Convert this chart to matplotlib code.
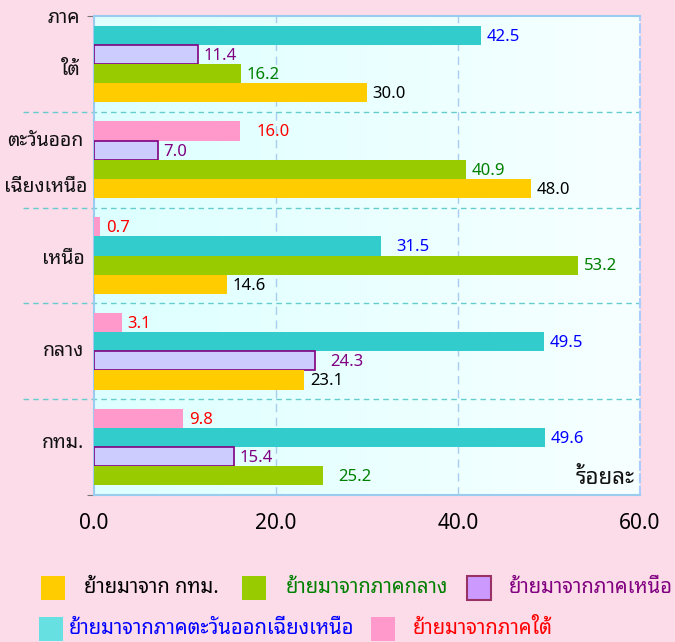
import numpy as np
import matplotlib
matplotlib.use("Agg")
import matplotlib.pyplot as plt
import matplotlib.transforms as mtrans
from matplotlib.patches import Rectangle

plt.rcParams["font.family"] = ["Noto Sans Thai Looped", "DejaVu Sans"]

# regions from top to bottom
regions = ["south", "ne", "north", "central", "bkk"]

# percent of migrants by origin (None = own region)
series = [
    # key, origin, bar colour, label colour
    ("south", [None, 16.0, 0.7, 3.1, 9.8], "#FF99CC", "#FF0000"),
    ("ne", [42.5, None, 31.5, 49.5, 49.6], "#33CCCC", "#0000FF"),
    ("north", [11.4, 7.0, None, 24.3, 15.4], "#CCCCFF", "#800080"),
    ("central", [16.2, 40.9, 53.2, None, 25.2], "#99CC00", "#008000"),
    ("bkk", [30.0, 48.0, 14.6, 23.1, None], "#FFCC00", "#000000"),
]

# a few labels sit a bit further from the bar end
extra_pad = {(1, "south"): 8, (2, "ne"): 7, (3, "north"): 7, (4, "central"): 7}

fig = plt.figure(figsize=(6.75, 6.42), dpi=100, facecolor="#FDDCEA")
ax = fig.add_axes([94 / 675, 1 - 495 / 642, 546 / 675, 479 / 642])

# plot area background gradient
grad = np.linspace(0, 1, 256).reshape(1, -1)
cmap = matplotlib.colors.LinearSegmentedColormap.from_list("bg", ["#DDFFFF", "#F7FFFF"])
ax.imshow(grad, extent=[0, 1, 0, 1], transform=ax.transAxes, aspect="auto",
          cmap=cmap, zorder=0)

bar_h = 0.2
for i, reg in enumerate(regions):
    present = [s for s in series if s[1][i] is not None]
    for k, (key, vals, col, lcol) in enumerate(present):
        y = i - 0.3 + bar_h * k
        v = vals[i]
        if key == "north":
            ax.barh(y, v, height=bar_h, color=col, edgecolor="#800080", linewidth=1.2, zorder=3)
        else:
            ax.barh(y, v, height=bar_h, color=col, edgecolor="none", zorder=3)
        far = (i, key) in extra_pad
        pad = 4 + extra_pad.get((i, key), 0)
        ax.annotate(f"{v:.1f}", (v, y), xytext=(pad, -1), textcoords="offset points",
                    va="center", ha="left", fontsize=12,
                    fontweight="normal" if far else "medium", color=lcol, zorder=4)

ax.set_xlim(0, 60)
ax.set_ylim(4.5, -0.5)

# gridlines
for xv in [20, 40]:
    ax.axvline(xv, color="#A9CDEE", lw=1, ls=(0, (6, 4)), zorder=1)
blend = mtrans.blended_transform_factory(ax.transAxes, ax.transData)
for yb in [0.5, 1.5, 2.5, 3.5]:
    ax.plot([-0.13, 1], [yb, yb], transform=blend, color="#66CCCC", lw=1,
            ls=(0, (4, 3)), clip_on=False, zorder=1)

ax.set_xticks([0, 20, 40, 60])
ax.set_xticklabels(["0.0", "20.0", "40.0", "60.0"], fontsize=15, fontweight="medium")
ax.tick_params(axis="x", length=0, pad=13)
ax.set_yticks([-0.5, 4.5])
ax.set_yticklabels([])
ax.tick_params(axis="y", length=5, color="#777777")

for s in ["top", "bottom", "left"]:
    ax.spines[s].set_color("#99CCEE")
    ax.spines[s].set_linewidth(1.5)
ax.spines["right"].set_color("#AACCFF")
ax.spines["right"].set_linestyle((0, (4, 2)))
ax.spines["right"].set_linewidth(1.5)

# region names
names = [("ภาค", -0.48, 80), ("ใต้", 0.06, 81), ("ตะวันออก", 0.8, 83),
         ("เฉียงเหนือ", 1.29, 87), ("เหนือ", 2.04, 85), ("กลาง", 3.0, 84), ("กทม.", 3.96, 84)]
for txt, yv, xr in names:
    ax.text((xr - 94) / 546, yv, txt, transform=blend, ha="right", va="center",
            fontsize=14, fontweight="bold", color="#111111")

ax.text(0.99, 0.035, "ร้อยละ", transform=ax.transAxes, ha="right", va="center",
        fontsize=16, fontweight="semibold", color="#111111")

# legend
legend_items = [
    (41, 588, 84, "#FFCC00", None, "ย้ายมาจาก กทม.", "#000000"),
    (242, 588, 286, "#99CC00", None, "ย้ายมาจากภาคกลาง", "#008000"),
    (467, 588, 509, "#CC99FF", "#993366", "ย้ายมาจากภาคเหนือ", "#800080"),
    (39, 629, 69, "#66E0E0", None, "ย้ายมาจากภาคตะวันออกเฉียงเหนือ", "#0000FF"),
    (371, 629, 413, "#FF99CC", None, "ย้ายมาจากภาคใต้", "#FF0000"),
]
W, H = 675, 642
for x0, yc, xt, fc, ec, label, tc in legend_items:
    sq = Rectangle((x0 / W, 1 - (yc + 12) / H), 24 / W, 24 / H, transform=fig.transFigure,
                   facecolor=fc, edgecolor=ec if ec else "none", linewidth=1.5)
    fig.patches.append(sq)
    fig.text(xt / W, 1 - yc / H, label, ha="left", va="center",
             fontsize=14.5, color=tc)

fig.savefig("out.png", dpi=100, facecolor=fig.get_facecolor())
